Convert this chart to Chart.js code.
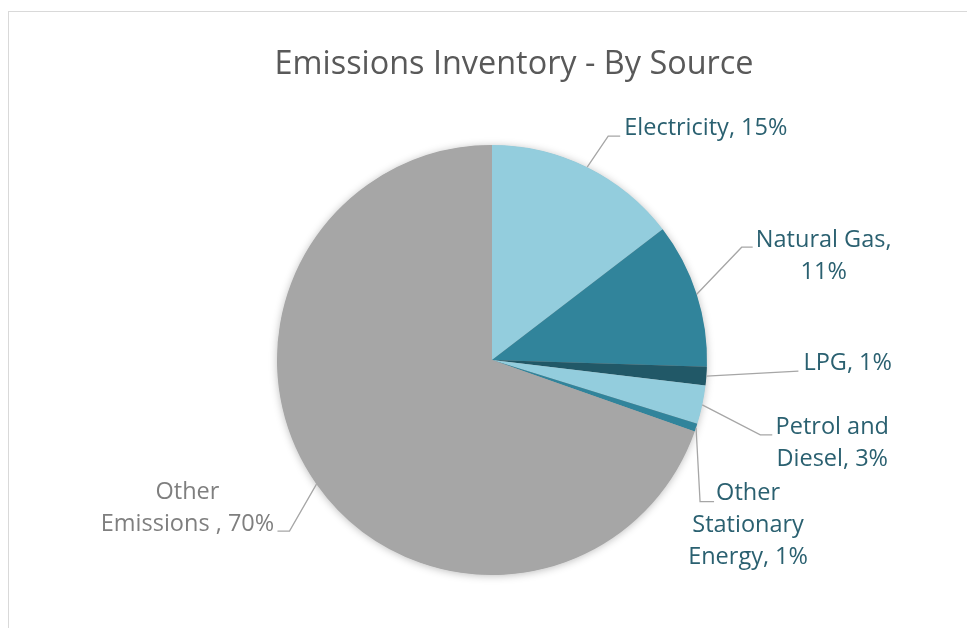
<!DOCTYPE html>
<html>
<head>
<meta charset="utf-8">
<script src="https://cdn.jsdelivr.net/npm/chart.js@4"></script>
<style>
  body { margin: 0; background: #fff; overflow: hidden; }
  .frame {
    position: absolute; left: 8px; top: 11px;
    width: 1012px; height: 617px;
    border-left: 1px solid #d9d9d9; border-top: 1px solid #d9d9d9;
  }
</style>
</head>
<body>
<div class="frame"><canvas id="pieChart"></canvas></div>
<script>
// data
const chartTitle = 'Emissions Inventory - By Source';
const categories = ['Electricity', 'Natural Gas', 'LPG', 'Petrol and Diesel', 'Other Stationary Energy', 'Other Emissions '];
const shares = [14.6, 10.9, 1.4, 2.9, 0.6, 69.6];
const sliceColors = ['#93cddd', '#31849b', '#215867', '#93cddd', '#31849b', '#a6a6a6'];

// label text split over lines, and where each label sits relative to its slice edge
const labelLines = [
  ['Electricity, {p}'],
  ['Natural Gas,', '{p}'],
  ['LPG, {p}'],
  ['Petrol and', 'Diesel, {p}'],
  ['Other', 'Stationary', 'Energy, {p}'],
  ['Other', 'Emissions , {p}']
];
const labelLayout = [
  { elbow: [21, -31], end: [33, -31], text: [37, -39], align: 'left' },
  { elbow: [45, -47], end: [56, -47], text: [127, -54], align: 'center' },
  { elbow: [0, 0], end: [92, -5], text: [97, -13], align: 'left' },
  { elbow: [58, 30], end: [70, 30], text: [130, 22], align: 'center' },
  { elbow: [4, 74], end: [18, 74], text: [52, 66], align: 'center' },
  { elbow: [-27, 47], end: [-39, 47], text: [-129, 8], align: 'center' }
];

const labelFont = '23.5px "Open Sans", sans-serif';
const titleFont = '32.4px "Open Sans", sans-serif';
const lineGap = 32;

// soft shadow under the whole pie
const pieShadow = {
  id: 'pieShadow',
  beforeDatasetsDraw(chart) {
    const arc = chart.getDatasetMeta(0).data[0];
    if (!arc) return;
    const p = arc.getProps(['x', 'y', 'outerRadius'], true);
    const ctx = chart.ctx;
    ctx.save();
    ctx.shadowColor = 'rgba(0,0,0,0.28)';
    ctx.shadowBlur = 9;
    ctx.shadowOffsetY = 1;
    ctx.fillStyle = '#a6a6a6';
    ctx.beginPath();
    ctx.arc(p.x, p.y, p.outerRadius - 0.5, 0, Math.PI * 2);
    ctx.fill();
    ctx.restore();
  }
};

// title sits a bit right of the pie centre (Excel centres it on the whole frame)
const frameTitle = {
  id: 'frameTitle',
  afterDraw(chart) {
    const ctx = chart.ctx;
    ctx.save();
    ctx.font = titleFont;
    ctx.fillStyle = '#595959';
    ctx.textAlign = 'center';
    ctx.textBaseline = 'middle';
    ctx.fillText(chartTitle, chart.width / 2 - 1, 53);
    ctx.restore();
  }
};

// data labels with leader lines, Excel style
const leaderLabels = {
  id: 'leaderLabels',
  afterDatasetsDraw(chart) {
    const ctx = chart.ctx;
    const meta = chart.getDatasetMeta(0);
    const total = shares.reduce((a, b) => a + b, 0);
    ctx.save();
    meta.data.forEach((arc, i) => {
      const p = arc.getProps(['x', 'y', 'startAngle', 'endAngle', 'outerRadius'], true);
      const mid = (p.startAngle + p.endAngle) / 2;
      const ax = p.x + Math.cos(mid) * p.outerRadius;
      const ay = p.y + Math.sin(mid) * p.outerRadius;
      const lay = labelLayout[i];

      ctx.strokeStyle = '#a6a6a6';
      ctx.lineWidth = 1.3;
      ctx.beginPath();
      ctx.moveTo(ax, ay);
      ctx.lineTo(ax + lay.elbow[0], ay + lay.elbow[1]);
      ctx.lineTo(ax + lay.end[0], ay + lay.end[1]);
      ctx.stroke();

      const pct = Math.round(shares[i] / total * 100) + '%';
      ctx.font = labelFont;
      ctx.fillStyle = i === 5 ? '#7f7f7f' : '#2a6070';
      ctx.textAlign = lay.align;
      ctx.textBaseline = 'middle';
      labelLines[i].forEach((ln, k) => {
        ctx.fillText(ln.replace('{p}', pct), ax + lay.text[0], ay + lay.text[1] + k * lineGap);
      });
    });
    ctx.restore();
  }
};

const ctx = document.getElementById('pieChart').getContext('2d');
const pieChart = new Chart(ctx, {
  type: 'pie',
  data: {
    labels: categories,
    datasets: [{
      data: shares,
      backgroundColor: sliceColors,
      borderWidth: 0,
      hoverOffset: 0
    }]
  },
  options: {
    responsive: true,
    maintainAspectRatio: false,
    animation: false,
    layout: { padding: { left: 0, right: 46, top: 133, bottom: 54 } },
    plugins: {
      legend: { display: false },
      tooltip: { enabled: false },
      title: { display: false }
    }
  },
  plugins: [pieShadow, leaderLabels, frameTitle]
});
</script>
</body>
</html>
